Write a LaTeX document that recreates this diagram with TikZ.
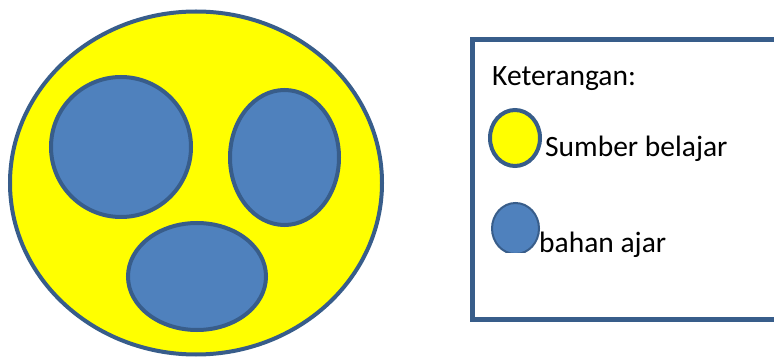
\documentclass[tikz,border=0pt]{standalone}
\usepackage{fontspec}
\setmainfont{Carlito}
\usetikzlibrary{shapes.geometric}
\definecolor{kuning}{HTML}{FFFF00}
\definecolor{biru}{HTML}{4F81BD}
\definecolor{garis}{HTML}{385D8A}
\tikzset{
    EL/.style ={ellipse, inner sep=0pt, draw=garis, line width=4pt},
    SB/.style ={EL, fill=kuning},
    BA/.style ={EL, fill=biru},
    TX/.style ={anchor=base west, inner sep=0pt, font=\fontsize{29.5}{33}\selectfont}}

\begin{document}
\begin{tikzpicture}[x=1pt,y=-1pt]
        \useasboundingbox (0,0) rectangle (774,358);
        \node(sumber) [SB,minimum width=372pt,minimum height=343pt] at (196,183) {};
        \node(bahan1) [BA,minimum width=140pt,minimum height=140pt] at (121,147) {};
        \node(bahan2) [BA,minimum width=109pt,minimum height=135pt] at (284.5,157.5) {};
        \node(bahan3) [BA,minimum width=138pt,minimum height=107pt] at (197,276.5) {};
        % keterangan
        \node(ket) [rectangle,draw=garis,line width=5pt,anchor=north west,
            minimum width=340pt,minimum height=280pt] at (469.5,37) {};
        \node(judul) [TX] at (492,85.5) {Keterangan:};
        \node(legsb) [SB,minimum width=50pt,minimum height=56pt] at (515,138) {};
        \node(txsb) [TX] at (545,157) {Sumber belajar};
        \begin{scope}
            \clip (480,190) rectangle (545,253);
            \node(legba) [BA,line width=2pt,minimum width=47pt,minimum height=51pt] at (515.5,228.5) {};
        \end{scope}
        \node(txba) [TX] at (539,252.5) {bahan ajar};
    \end{tikzpicture}
\end{document}
